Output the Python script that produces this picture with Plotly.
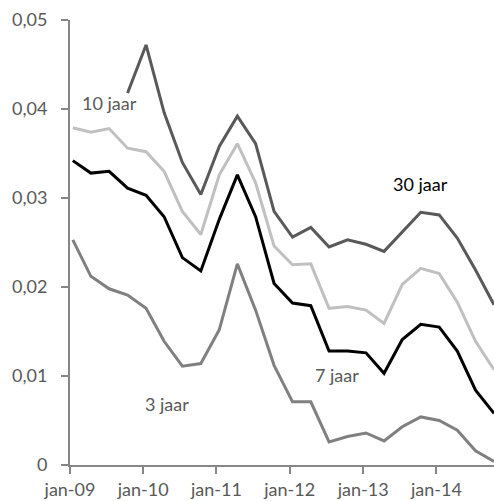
import plotly.graph_objects as go

dates = [f"{y}-{m:02d}-15" for y in range(2009, 2015) for m in (1, 4, 7, 10)]

rente_3 = [0.0253, 0.0212, 0.0198, 0.0191, 0.0176, 0.0139, 0.0111, 0.0114, 0.0152, 0.0226,
           0.0174, 0.0112, 0.0071, 0.0071, 0.0026, 0.0032, 0.0036, 0.0027, 0.0043, 0.0054,
           0.0050, 0.0039, 0.0016, 0.0004]
rente_7 = [0.0342, 0.0328, 0.0330, 0.0311, 0.0303, 0.0279, 0.0233, 0.0218, 0.0276, 0.0326,
           0.0279, 0.0204, 0.0182, 0.0179, 0.0128, 0.0128, 0.0126, 0.0103, 0.0141, 0.0158,
           0.0155, 0.0128, 0.0084, 0.0058]
rente_10 = [0.0379, 0.0374, 0.0378, 0.0356, 0.0352, 0.0330, 0.0285, 0.0259, 0.0326, 0.0361,
            0.0317, 0.0246, 0.0225, 0.0226, 0.0176, 0.0178, 0.0174, 0.0159, 0.0203, 0.0221,
            0.0215, 0.0183, 0.0139, 0.0107]
rente_30 = [None, None, None, 0.0418, 0.0472, 0.0396, 0.0340, 0.0304, 0.0358, 0.0392,
            0.0361, 0.0285, 0.0256, 0.0267, 0.0245, 0.0253, 0.0248, 0.0240, 0.0262, 0.0284,
            0.0281, 0.0255, 0.0219, 0.0180]

x_tickvals = ["2009-01-01", "2010-01-01", "2011-01-01", "2012-01-01", "2013-01-01", "2014-01-01"]
x_ticktext = ["jan-09", "jan-10", "jan-11", "jan-12", "jan-13", "jan-14"]
y_tickvals = [0, 0.01, 0.02, 0.03, 0.04, 0.05]
y_ticktext = ["0", "0,01", "0,02", "0,03", "0,04", "0,05"]

FONT = "Lato"
fig = go.Figure()
series = [
    ("3 jaar", rente_3, "#808080"),
    ("7 jaar", rente_7, "#000000"),
    ("10 jaar", rente_10, "#C0C0C0"),
    ("30 jaar", rente_30, "#595959"),
]
for name, vals, col in series:
    fig.add_trace(go.Scatter(x=dates, y=vals, mode="lines", name=name,
                             line=dict(color=col, width=3), connectgaps=False))

labels = [
    ("10 jaar", 0.092, 0.813, "#595959"),
    ("30 jaar", 0.827, 0.631, "#000000"),
    ("7 jaar", 0.630, 0.202, "#595959"),
    ("3 jaar", 0.229, 0.137, "#595959"),
]
for txt, xp, yp, col in labels:
    fig.add_annotation(text=txt, x=xp, y=yp, xref="paper", yref="paper",
                       showarrow=False, xanchor="center", yanchor="middle",
                       font=dict(family=FONT, size=18, color=col))

fig.update_layout(
    width=494, height=501, autosize=False,
    margin=dict(l=70, r=0, t=20, b=36, autoexpand=False),
    plot_bgcolor="white", paper_bgcolor="white",
    showlegend=False,
    font=dict(family=FONT, size=18, color="#595959"),
)
fig.update_xaxes(type="date", range=["2009-01-01", "2014-10-15"],
                 tickvals=x_tickvals, ticktext=x_ticktext, automargin=False,
                 showgrid=False, zeroline=False, showline=True, linecolor="#868686", linewidth=2,
                 ticks="outside", ticklen=7, tickwidth=2, tickcolor="#868686")
fig.update_yaxes(range=[0, 0.05], tickvals=y_tickvals, ticktext=y_ticktext, automargin=False,
                 showgrid=False, zeroline=False, showline=True, linecolor="#868686", linewidth=2,
                 ticks="outside", ticklen=7, tickwidth=2, tickcolor="#868686",
                 ticklabelstandoff=10)

fig.write_html("out.html", config={"displayModeBar": False},
               post_script="document.body.style.margin='0';document.body.style.overflow='hidden';")
